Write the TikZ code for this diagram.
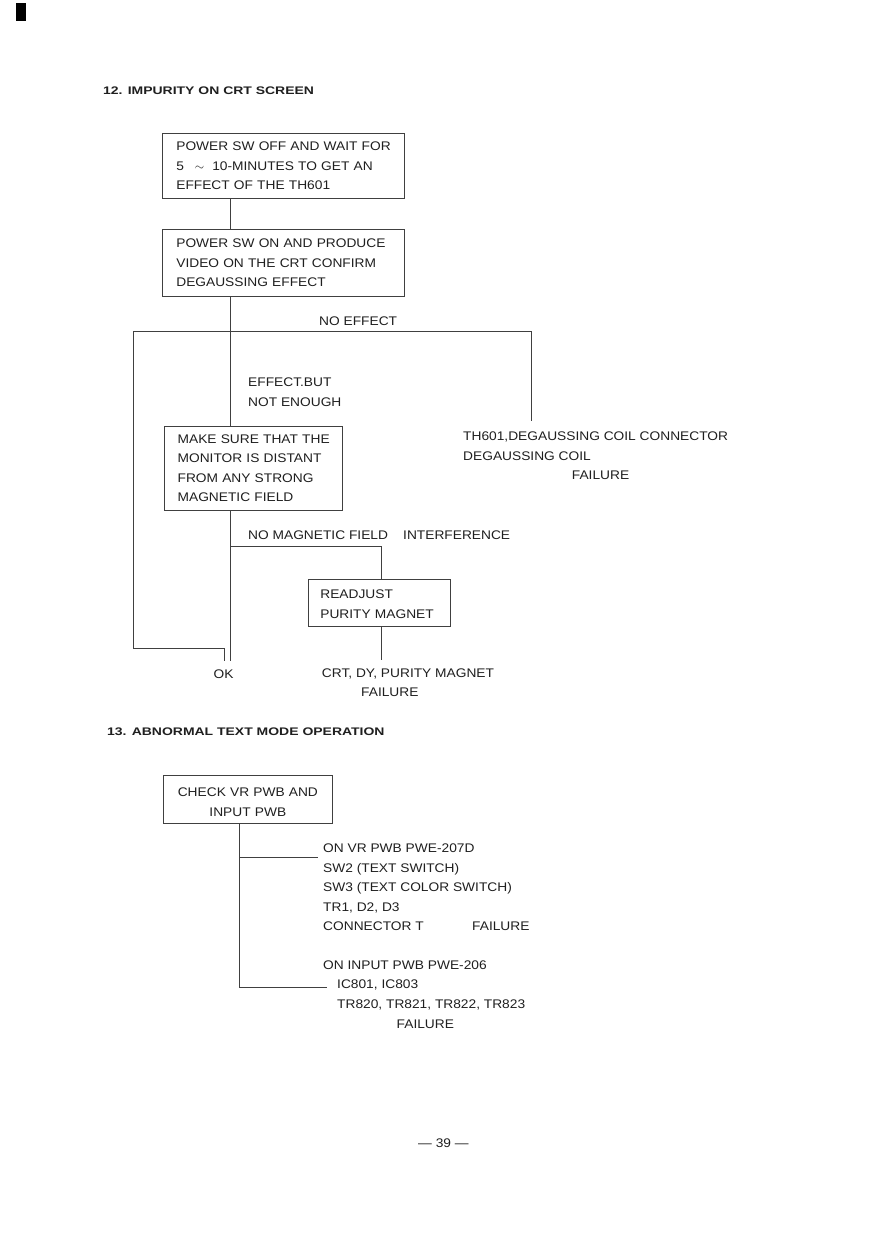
\documentclass[tikz,border=0pt]{standalone}
\usepackage{fontspec}
\setmainfont{Liberation Sans}[FakeStretch=1.1]
\newfontfamily\headfont{Liberation Sans}[FakeStretch=1.27]
\begin{document}
\begin{tikzpicture}[x=1pt,y=-1pt,
  every node/.style={text=black!88},
  txt/.style={font=\fontsize{12.5}{19.5}\selectfont, anchor=base west, inner sep=0pt},
  head/.style={font=\headfont\fontsize{11}{13}\selectfont\bfseries, anchor=base west, inner sep=0pt},
  box/.style={draw=black!75, line width=0.7pt, anchor=north west, align=left,
    font=\fontsize{12.5}{19.5}\selectfont, inner ysep=0pt},
  con/.style={draw=black!75, line width=0.7pt}]
\useasboundingbox (0,0) rectangle (888,1257);
\fill[black] (16,3.5) rectangle (26,21.5);

% ---------- section 12 ----------
\node[head] (h12) at (103,94.3) {12. IMPURITY ON CRT SCREEN};

\node[box, inner xsep=14pt, text width=214pt, minimum height=65pt] (b1) at (162,133)
  {\mbox{POWER SW OFF AND WAIT FOR}\\\mbox{5\hspace{11pt}$\sim$\hspace{8pt}10-MINUTES TO GET AN}\\\mbox{EFFECT OF THE TH601}};
\node[box, inner xsep=14pt, text width=214pt, minimum height=67pt] (b2) at (162,229)
  {\mbox{POWER SW ON AND PRODUCE}\\\mbox{VIDEO ON THE CRT CONFIRM}\\\mbox{DEGAUSSING EFFECT}};
\node[box, inner xsep=13pt, text width=152pt, minimum height=84pt] (b3) at (164.3,426)
  {\mbox{MAKE SURE THAT THE}\\\mbox{MONITOR IS DISTANT}\\\mbox{FROM ANY STRONG}\\\mbox{MAGNETIC FIELD}};
\node[box, inner xsep=12.3pt, text width=117.7pt, minimum height=47pt] (b4) at (307.7,579)
  {\mbox{\rule{0pt}{11pt}READJUST}\\\mbox{PURITY MAGNET}};

\node[txt] (noeff) at (319,325) {NO EFFECT};
\node[txt, align=left, anchor=north west] (effbut) at (248,378) {EFFECT.BUT\\NOT ENOUGH};
\node[txt] (th1) at (463,440.7) {TH601,DEGAUSSING COIL CONNECTOR};
\node[txt] (th2) at (463,460.2) {DEGAUSSING COIL};
\node[txt] (th3) at (571.7,479.7) {FAILURE};
\node[txt] (nomag) at (248,539) {NO MAGNETIC FIELD};
\node[txt] (interf) at (403,539) {INTERFERENCE};
\node[txt] (ok) at (213.5,678) {OK};
\node[txt] (crt) at (321.7,677.3) {CRT, DY, PURITY MAGNET};
\node[txt] (crtf) at (361,696.8) {FAILURE};

\coordinate (cA) at (230,331);
\coordinate (cL) at (133,331);
\coordinate (cR) at (531,331);
\coordinate (cRe) at (531,420.5);
\coordinate (cLb) at (224,648);
\coordinate (cLe) at (224,661);
\coordinate (cOK) at (230,661);
\coordinate (cM) at (230,546);
\coordinate (cM2) at (381.5,546);
\coordinate (cF) at (381.5,660);

\draw[con] (b1.south -| cA) -- (b2.north -| cA);
\draw[con] (b2.south -| cA) -- (b3.north -| cA);
\draw[con] (cL) -- (cR) -- (cRe);
\draw[con] (cL) |- (cLb) -- (cLe);
\draw[con] (b3.south -| cA) -- (cOK);
\draw[con] (cM) -- (cM2) -- (b4.north -| cM2);
\draw[con] (b4.south -| cM2) -- (cF);

% ---------- section 13 ----------
\node[head] (h13) at (107,735) {13. ABNORMAL TEXT MODE OPERATION};

\node[box, align=center, inner xsep=10pt, text width=149pt, minimum height=48pt] (b5) at (163,775)
  {\rule{0pt}{14pt}CHECK VR PWB AND\\INPUT PWB};

\node[txt, align=left, anchor=north west] (vr) at (323,843.8)
  {ON VR PWB PWE-207D\\SW2 (TEXT SWITCH)\\SW3 (TEXT COLOR SWITCH)\\TR1, D2, D3\\\makebox[149pt][l]{CONNECTOR T}FAILURE};
\node[txt] (inp) at (323,969) {ON INPUT PWB PWE-206};
\node[txt, align=left, anchor=north west] (ic) at (337,980) {IC801, IC803\\TR820, TR821, TR822, TR823};
\node[txt] (icf) at (396.5,1028) {FAILURE};

\coordinate (dV) at (239,823);
\coordinate (dU) at (239,857);
\coordinate (dUe) at (318,857);
\coordinate (dB) at (239,987);
\coordinate (dBe) at (327,987);
\draw[con] (b5.south -| dV) -- (dB) -- (dBe);
\draw[con] (dU) -- (dUe);

\node[txt] (page) at (418,1147.5) {\textemdash\ 39 \textemdash};
\end{tikzpicture}
\end{document}
